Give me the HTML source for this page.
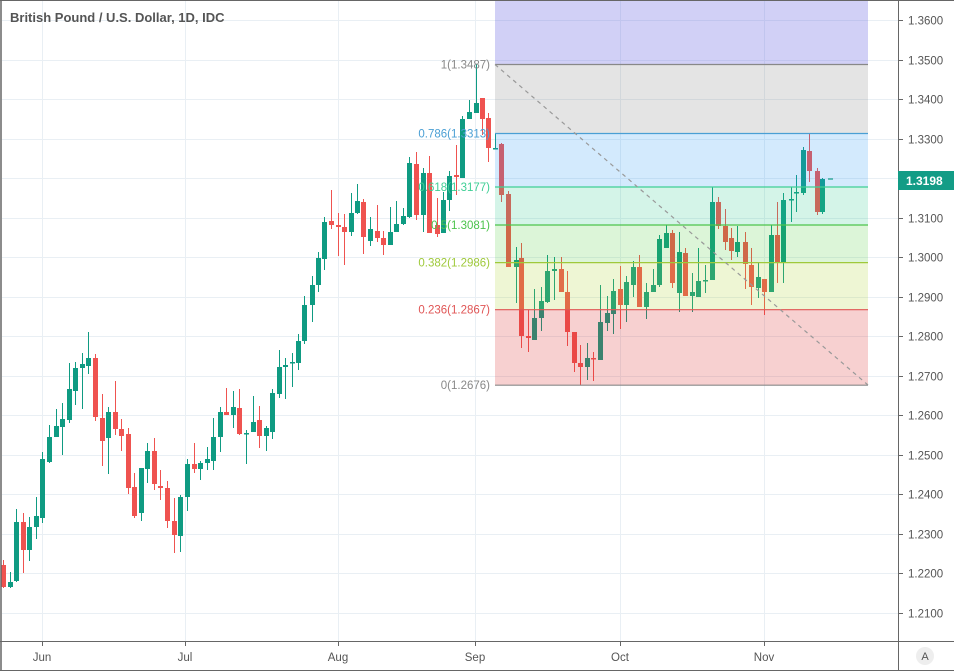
<!DOCTYPE html>
<html><head><meta charset="utf-8"><style>
html,body{margin:0;padding:0;background:#fff;}
svg{display:block;font-family:"Liberation Sans",sans-serif;}
</style></head><body>
<svg id="c" width="954" height="672" viewBox="0 0 954 672" xmlns="http://www.w3.org/2000/svg">
<rect x="0" y="0" width="954" height="672" fill="#fff"/>
<g id="grid" stroke="#e9eff4" stroke-width="1"></g>
<g id="fibfill"></g>
<g id="candles"></g>
<g id="fibover"></g>
<line x1="495" y1="64.5" x2="868" y2="385" stroke="#999" stroke-width="1.2" stroke-dasharray="4,4"/>
<g id="fiblab" font-size="11.5" text-anchor="end"></g>
<text x="10" y="22" font-size="13" fill="#555" font-weight="bold" style="font-weight:600">British Pound / U.S. Dollar, 1D, IDC</text>
<!-- borders -->
<line x1="898.5" y1="0" x2="898.5" y2="670" stroke="#666" stroke-width="1"/>
<line x1="0" y1="641.5" x2="954" y2="641.5" stroke="#666" stroke-width="1"/>
<line x1="1" y1="0" x2="1" y2="671" stroke="#666" stroke-width="1.5"/>
<line x1="0" y1="670.5" x2="954" y2="670.5" stroke="#666" stroke-width="1"/>
<line x1="0" y1="0.5" x2="954" y2="0.5" stroke="#666" stroke-width="1"/>
<g id="axis" font-size="11.5" fill="#555"></g>
<rect x="898" y="171" width="56" height="19" fill="#139c86"/>
<text x="906" y="185" font-size="12" font-weight="bold" fill="#fff">1.3198</text>
<line x1="828" y1="179" x2="833" y2="179" stroke="#139c86" stroke-width="1.2"/>
<circle cx="925" cy="656" r="9" fill="#eeeeee"/>
<text x="925" y="660" font-size="11" fill="#555" text-anchor="middle">A</text>
</svg>
<script>
const NS="http://www.w3.org/2000/svg";
function el(parent,tag,attrs,text){const e=document.createElementNS(NS,tag);for(const k in attrs)e.setAttribute(k,attrs[k]);if(text!==undefined)e.textContent=text;document.getElementById(parent).appendChild(e);return e;}
const Y=p=>20+(1.36-p)*3953.3;
// grid + axis
for(let k=0;k<=15;k++){const p=1.36-k*0.01;const y=Math.round(Y(p))+0.5;
 el('grid','line',{x1:2,y1:y,x2:898,y2:y});
 el('axis','line',{x1:898,y1:y,x2:903,y2:y,stroke:'#666'});
 el('axis','text',{x:908,y:y+4},p.toFixed(4));}
[42,185,338,475,620,764].forEach((x,i)=>{el('grid','line',{x1:x+0.5,y1:0,x2:x+0.5,y2:641});
 el('axis','line',{x1:x+0.5,y1:641,x2:x+0.5,y2:646,stroke:'#666'});
 el('axis','text',{x:x,y:661,'text-anchor':'middle'},['Jun','Jul','Aug','Sep','Oct','Nov'][i]);});
// fib
const fx1=495,fx2=868;
const bands=[[0,64.5,'rgba(103,98,225,0.3)'],[64.5,133.5,'rgba(120,120,120,0.2)'],[133.5,187,'rgba(33,150,243,0.2)'],[187,225,'rgba(40,200,140,0.2)'],[225,262.6,'rgba(60,200,40,0.18)'],[262.6,309.7,'rgba(170,210,40,0.2)'],[309.7,385.2,'rgba(220,40,40,0.22)']];
bands.forEach(b=>el('fibover','rect',{x:fx1,y:b[0],width:fx2-fx1,height:b[1]-b[0],fill:b[2]}));
const levels=[[64.5,'#888','1(1.3487)'],[133.5,'#4a9fd4','0.786(1.3313)'],[187,'#3fcf95','0.618(1.3177)'],[225,'#4cc34c','0.5(1.3081)'],[262.6,'#9fc93a','0.382(1.2986)'],[309.7,'#e05555','0.236(1.2867)'],[385.2,'#888','0(1.2676)']];
levels.forEach(l=>{el('fibover','line',{x1:fx1,y1:l[0],x2:fx2,y2:l[0],stroke:l[1],'stroke-width':1.2});
 el('fiblab','text',{x:490,y:l[0]+4,fill:l[1]},l[2]);});
// candles [x,o,c,h,l,color]
const C=[
[3,565,587,560,588,'r'],[10,587,582,572,588,'g'],[16,581,522,509,582,'g'],[23,522,550,513,573,'r'],[29,550,527,517,561,'g'],[36,527,516,497,539,'g'],[42,518,459,452,523,'g'],[49,462,437,425,463,'g'],[56,437,426,409,437,'g'],[62,427,419,403,455,'g'],[69,420,389,363,423,'g'],[75,391,368,362,405,'g'],[82,368,364,353,409,'g'],[88,366,358,332,374,'g'],[95,358,417,354,421,'r'],[102,418,441,394,466,'r'],[108,438,412,407,474,'g'],[115,412,429,381,435,'r'],[121,429,436,419,451,'r'],[128,434,488,428,494,'r'],[134,487,516,473,518,'r'],[141,513,468,468,521,'g'],[147,469,451,443,483,'g'],[154,451,484,438,490,'r'],[160,486,488,470,500,'r'],[167,488,521,481,528,'r'],[174,521,535,498,553,'r'],[180,536,497,495,552,'g'],[187,497,464,459,511,'g'],[194,464,469,443,473,'r'],[200,469,463,461,480,'g'],[207,463,459,447,470,'g'],[213,461,437,418,470,'g'],[220,437,412,407,452,'g'],[226,412,415,388,415,'r'],[233,415,407,391,428,'g'],[239,408,434,389,435,'r'],[246,433,434,430,464,'g'],[253,432,422,396,432,'g'],[259,420,436,406,448,'r'],[266,436,428,426,451,'g'],[272,432,393,389,439,'g'],[279,394,367,350,398,'g'],[285,367,365,358,399,'g'],[292,363,362,353,387,'g'],[298,363,341,334,370,'g'],[304,341,305,296,344,'g'],[312,305,285,276,322,'g'],[318,285,258,252,292,'g'],[324,259,222,217,270,'g'],[331,221,225,190,229,'r'],[338,225,227,213,256,'r'],[344,227,232,214,265,'r'],[351,232,213,193,236,'g'],[357,213,201,184,214,'g'],[363,202,237,199,254,'r'],[370,241,229,217,246,'g'],[377,231,238,205,242,'r'],[383,238,245,231,255,'r'],[390,245,232,207,245,'g'],[396,232,224,201,230,'g'],[403,224,216,208,225,'g'],[409,217,163,157,218,'g'],[416,164,215,152,220,'r'],[423,215,173,168,232,'g'],[429,173,233,156,233,'r'],[437,225,234,198,237,'r'],[443,233,200,192,233,'g'],[449,200,176,171,211,'g'],[456,175,177,145,195,'r'],[462,178,119,116,178,'g'],[469,119,112,100,119,'g'],[476,113,103,64,113,'g'],[482,98,119,98,135,'r'],[488,118,148,113,162,'r'],
[495,149,148,133,149,'g'],[501,144,195,143,202,'r'],[508,194,267,191,267,'r'],[516,267,260,247,303,'g'],[521,258,336,243,348,'r'],[528,336,338,310,352,'r'],[534,340,318,289,340,'g'],[541,318,301,287,331,'g'],[547,302,271,255,303,'g'],[554,271,269,257,300,'g'],[561,269,292,257,292,'r'],[567,292,332,271,346,'r'],[574,332,363,332,372,'r'],[580,363,367,345,385,'r'],[587,367,358,343,380,'g'],[593,358,359,352,381,'r'],[600,360,322,285,360,'g'],[607,323,313,296,331,'g'],[613,314,291,279,334,'g'],[620,289,305,266,329,'r'],[626,305,282,276,322,'g'],[633,285,267,261,297,'g'],[639,267,307,255,307,'r'],[646,307,292,283,319,'g'],[653,292,285,269,292,'g'],[659,285,239,235,287,'g'],[666,248,233,225,248,'g'],[672,233,283,230,288,'r'],[679,293,252,232,312,'g'],[685,253,296,248,296,'r'],[692,296,292,273,312,'g'],[698,297,281,248,297,'g'],[705,281,280,265,293,'g'],[712,280,202,187,280,'g'],[718,202,226,197,229,'r'],[725,226,242,209,250,'r'],[731,238,251,228,260,'r'],[737,252,242,226,257,'g'],[745,242,264,232,289,'r'],[751,265,287,248,305,'r'],[758,288,277,262,298,'g'],[764,279,292,279,315,'r'],[771,292,235,225,292,'g'],[777,235,263,202,283,'r'],[783,263,200,193,283,'g'],[791,200,199,187,222,'g'],[796,193,192,175,212,'g'],[803,193,150,147,195,'g'],[809,151,171,133,182,'r'],[817,171,212,168,215,'r'],[822,212,179,178,214,'g']
];
C.forEach(c=>{const [x,o,cl,h,l,col]=c;const color=col==='g'?'#0f9b82':'#ef5350';
 el('candles','line',{x1:x+0.5,y1:h,x2:x+0.5,y2:l,stroke:color,'stroke-width':1});
 const top=Math.min(o,cl),ht=Math.max(1.5,Math.abs(o-cl));
 el('candles','rect',{x:x-2,y:top,width:5,height:ht,fill:color});});
</script>
</body></html>
